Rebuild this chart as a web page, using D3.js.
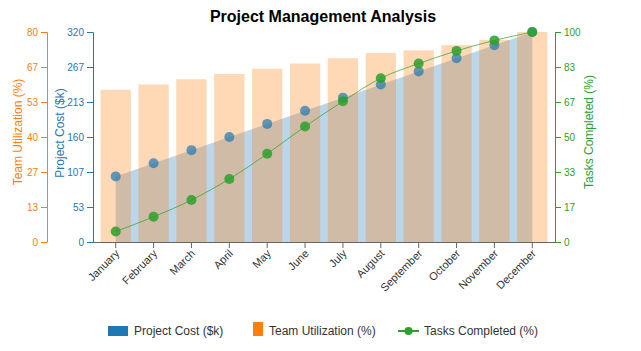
<!DOCTYPE html>
<html>
<head>
<meta charset="utf-8">
<script src="https://cdn.jsdelivr.net/npm/d3@7"></script>
<style>
  body { margin: 0; background: #fff; }
  svg { font-family: "Liberation Sans", Arial, sans-serif; }
  .axis text { font-size: 10px; }
  .x-axis text { font-size: 11px; }
</style>
</head>
<body>
<svg id="chart" width="641" height="351"></svg>
<script>
const months = ["January", "February", "March", "April", "May", "June",
  "July", "August", "September", "October", "November", "December"];
const projectCost = [100, 120, 140, 160, 180, 200, 220, 240, 260, 280, 300, 320];
const teamUtilization = [58, 60, 62, 64, 66, 68, 70, 72, 73, 75, 77, 80];
const tasksCompleted = [5, 12, 20, 30, 42, 55, 67, 78, 85, 91, 96, 100];

const BLUE = "#1f77b4", ORANGE = "#ff7f0e", GREEN = "#2ca02c";

const margin = { top: 32, right: 86, bottom: 109, left: 93 };
const width = 641 - margin.left - margin.right;
const height = 351 - margin.top - margin.bottom;

const svg = d3.select("#chart");
const g = svg.append("g").attr("transform", `translate(${margin.left},${margin.top})`);

const data = months.map((m, i) => ({
  month: m, cost: projectCost[i], util: teamUtilization[i], tasks: tasksCompleted[i]
}));

const x = d3.scaleBand().domain(months).range([0, width]).padding(0.2);
const xc = d => x(d.month) + x.bandwidth() / 2;
const yCost = d3.scaleLinear().domain([0, d3.max(projectCost)]).range([height, 0]);
const yUtil = d3.scaleLinear().domain([0, d3.max(teamUtilization)]).range([height, 0]);
const yTasks = d3.scaleLinear().domain([0, d3.max(tasksCompleted)]).range([height, 0]);

// 7 evenly spaced ticks, rounded labels
const ticksOf = s => d3.range(7).map(i => s.domain()[1] * i / 6);
const fmt = d3.format(".0f");

// project cost area
g.append("path")
  .datum(data)
  .attr("fill", BLUE)
  .attr("fill-opacity", 0.3)
  .attr("d", d3.area().x(xc).y0(height).y1(d => yCost(d.cost)));

// team utilization bars
g.selectAll("rect.util")
  .data(data)
  .enter().append("rect")
  .attr("class", "util")
  .attr("x", d => x(d.month))
  .attr("y", d => yUtil(d.util))
  .attr("width", x.bandwidth())
  .attr("height", d => height - yUtil(d.util))
  .attr("fill", ORANGE)
  .attr("fill-opacity", 0.3);

// project cost points
g.selectAll("circle.cost")
  .data(data)
  .enter().append("circle")
  .attr("class", "cost")
  .attr("cx", xc)
  .attr("cy", d => yCost(d.cost))
  .attr("r", 5)
  .attr("fill", BLUE)
  .attr("fill-opacity", 0.7);

// tasks line
g.append("path")
  .datum(data)
  .attr("fill", "none")
  .attr("stroke", GREEN)
  .attr("stroke-opacity", 0.7)
  .attr("stroke-width", 1)
  .attr("d", d3.line().x(xc).y(d => yTasks(d.tasks)).curve(d3.curveMonotoneX));

g.selectAll("circle.tasks")
  .data(data)
  .enter().append("circle")
  .attr("class", "tasks")
  .attr("cx", xc)
  .attr("cy", d => yTasks(d.tasks))
  .attr("r", 5)
  .attr("fill", GREEN)
  .attr("fill-opacity", 0.85);

// axes
const xAxis = g.append("g")
  .attr("class", "axis x-axis")
  .attr("transform", `translate(0,${height})`)
  .call(d3.axisBottom(x).tickSizeOuter(0));
xAxis.select(".domain").attr("stroke", "#666");
xAxis.selectAll(".tick line").attr("stroke", "#666");
xAxis.selectAll("text")
  .attr("fill", "#333")
  .style("text-anchor", "end")
  .attr("dx", "-0.5em")
  .attr("dy", "0.25em")
  .attr("transform", "rotate(-45)");

function styleAxis(sel, color) {
  sel.select(".domain").attr("stroke", color);
  sel.selectAll(".tick line").attr("stroke", color);
  sel.selectAll("text").attr("fill", color);
}

const costAxis = g.append("g").attr("class", "axis")
  .call(d3.axisLeft(yCost).tickValues(ticksOf(yCost)).tickFormat(fmt));
styleAxis(costAxis, BLUE);

const utilAxis = g.append("g").attr("class", "axis")
  .attr("transform", "translate(-46,0)")
  .call(d3.axisLeft(yUtil).tickValues(ticksOf(yUtil)).tickFormat(fmt));
styleAxis(utilAxis, ORANGE);

const tasksAxis = g.append("g").attr("class", "axis")
  .attr("transform", `translate(${width},0)`)
  .call(d3.axisRight(yTasks).tickValues(ticksOf(yTasks)).tickFormat(fmt));
styleAxis(tasksAxis, GREEN);

// axis titles
const axisTitle = (tx, ty, text, color) => svg.append("text")
  .attr("transform", `translate(${tx},${ty}) rotate(-90)`)
  .attr("text-anchor", "middle")
  .attr("fill", color)
  .style("font-size", "12px")
  .text(text);
axisTitle(22, 132, "Team Utilization (%)", ORANGE);
axisTitle(64, 133, "Project Cost ($k)", BLUE);
axisTitle(593, 132, "Tasks Completed (%)", GREEN);

// title
svg.append("text")
  .attr("x", 323)
  .attr("y", 22)
  .attr("text-anchor", "middle")
  .style("font-size", "16px")
  .style("font-weight", "bold")
  .text("Project Management Analysis");

// legend
const legend = svg.append("g").attr("transform", "translate(108,331)");
const l1 = legend.append("g");
l1.append("rect").attr("x", 0).attr("y", -5).attr("width", 20).attr("height", 10).attr("fill", BLUE);
l1.append("text").attr("x", 26).attr("y", 4).style("font-size", "12px").attr("fill", "#333").text("Project Cost ($k)");
const l2 = legend.append("g").attr("transform", "translate(145,0)");
l2.append("rect").attr("x", 0).attr("y", -9).attr("width", 10).attr("height", 14).attr("fill", ORANGE);
l2.append("text").attr("x", 16).attr("y", 4).style("font-size", "12px").attr("fill", "#333").text("Team Utilization (%)");
const l3 = legend.append("g").attr("transform", "translate(290,0)");
l3.append("line").attr("x1", 0).attr("x2", 21).attr("y1", 0).attr("y2", 0).attr("stroke", GREEN).attr("stroke-width", 2);
l3.append("circle").attr("cx", 10.5).attr("cy", 0).attr("r", 4).attr("fill", GREEN);
l3.append("text").attr("x", 26).attr("y", 4).style("font-size", "12px").attr("fill", "#333").text("Tasks Completed (%)");
</script>
</body>
</html>
